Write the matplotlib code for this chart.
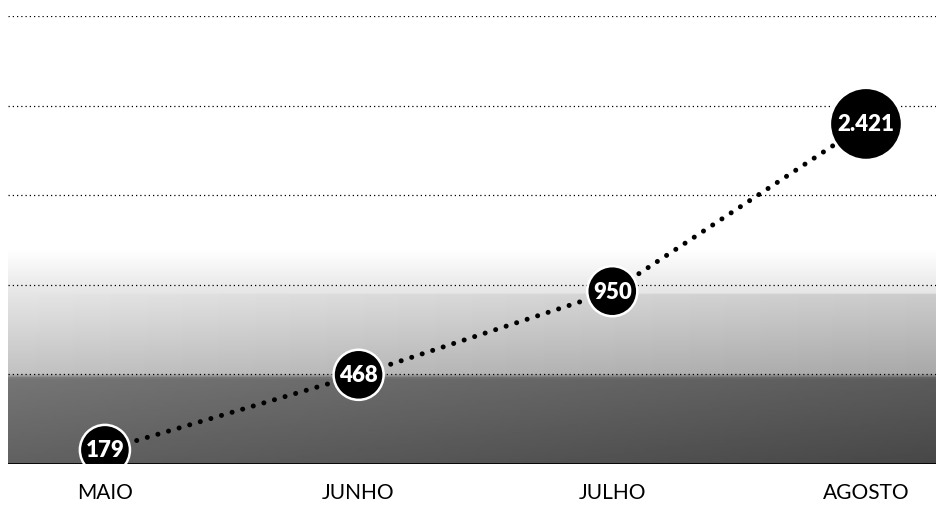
import numpy as np
import matplotlib.pyplot as plt

# monthly totals (infographic)
months = ["MAIO", "JUNHO", "JULHO", "AGOSTO"]
totals = [179, 468, 950, 2421]

plt.rcParams['font.family'] = ['Lato', 'DejaVu Sans']

W, H = 937, 506
fig = plt.figure(figsize=(W / 100, H / 100), dpi=100)
rect = [8 / W, 41 / H, 929 / W, 448 / H]

# background: photo-like grey band at the bottom + dotted guide lines
ax_bg = fig.add_axes(rect)
ax_bg.set_xlim(0, 1)
ax_bg.set_ylim(0, 5)
rows = np.linspace(5, 0, 200)
shade = np.interp(rows, [0, 0.95, 1.0, 1.9, 2.4, 5], [0.38, 0.46, 0.76, 0.9, 1.0, 1.0])
cols = np.linspace(0, 1, 300)
darker = np.interp(cols, [0, 0.5, 1], [0.0, 0.05, 0.1])
img = np.clip(shade[:, None] - darker[None, :] * (rows[:, None] < 1.9), 0, 1)
ax_bg.imshow(img, cmap='gray', vmin=0, vmax=1, extent=[0, 1, 0, 5], aspect='auto', zorder=0)
for g in range(1, 6):
    ax_bg.axhline(g, color='black', lw=0.9, ls=(0, (1, 2.4)), zorder=1)
ax_bg.axhline(0, color='black', lw=2, zorder=2)
ax_bg.axis('off')

# main axes on top, sqrt-like vertical scale
ax = fig.add_axes(rect)
ax.patch.set_alpha(0)
ax.set_yscale('function', functions=(lambda v: np.sqrt(np.clip(v, 0, None)), lambda v: v ** 2))
ax.set_ylim(140, 3729)
ax.set_xlim(-0.382, 3.28)

x = np.arange(len(months))
ax.plot(x, totals, color='black', lw=3.6, ls=(0, (0.01, 2.2)), dash_capstyle='round', zorder=3)
sizes = [1300 if v < 1000 else 2700 for v in totals]
ax.scatter(x, totals, s=sizes, color='black', edgecolors='white', linewidths=1.8, zorder=4)
for xi, v in zip(x, totals):
    ax.text(xi, v, f"{v:,}".replace(",", "."), color='white', fontsize=16, fontweight='heavy',
            ha='center', va='center', zorder=5)

ax.set_xticks(x, months)
ax.tick_params(axis='x', length=0, pad=13, labelsize=15)
ax.set_yticks([])
for s in ax.spines.values():
    s.set_visible(False)

fig.savefig('out.png', dpi=100, facecolor='white')
